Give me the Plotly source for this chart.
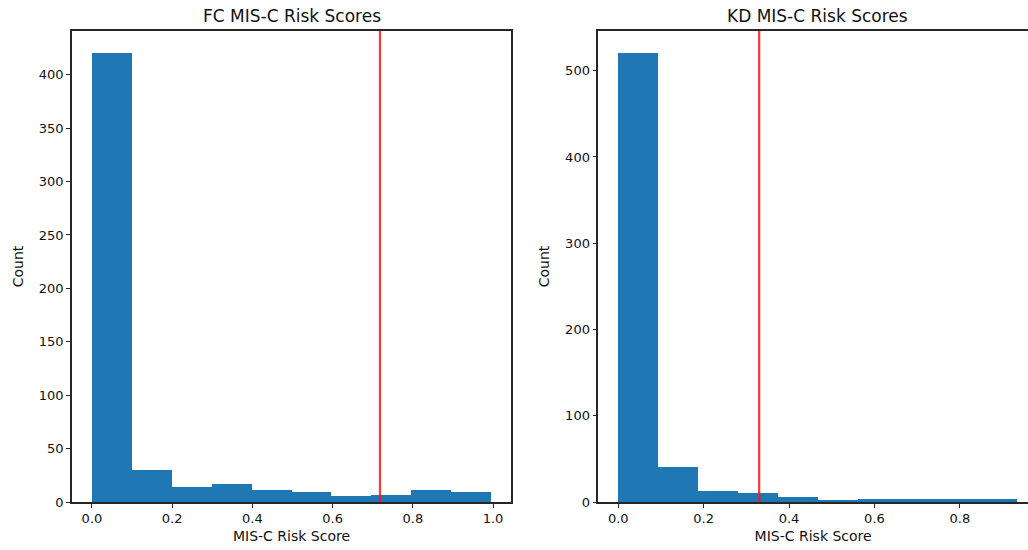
import plotly.graph_objects as go

# Data
fc_bin_start = 0.0
fc_bin_width = 0.0995
fc_counts = [420, 30, 14, 17, 11, 9, 6, 7, 11, 9]
fc_threshold = 0.718

kd_bin_start = 0.0
kd_bin_width = 0.0935
kd_counts = [520, 40, 13, 11, 6, 1.5, 3, 3, 4, 4]
kd_threshold = 0.330

titles = ["FC MIS-C Risk Scores", "KD MIS-C Risk Scores"]
x_label = "MIS-C Risk Score"
y_label = "Count"

BLUE = "#1f77b4"
W, H = 1028, 550

fig = go.Figure()

def centers(start, width, n):
    return [start + width * (i + 0.5) for i in range(n)]

fig.add_trace(go.Bar(x=centers(fc_bin_start, fc_bin_width, len(fc_counts)), y=fc_counts,
                     width=fc_bin_width, marker=dict(color=BLUE, line=dict(width=0)),
                     xaxis="x", yaxis="y", showlegend=False))
fig.add_trace(go.Bar(x=centers(kd_bin_start, kd_bin_width, len(kd_counts)), y=kd_counts,
                     width=kd_bin_width, marker=dict(color=BLUE, line=dict(width=0)),
                     xaxis="x2", yaxis="y2", showlegend=False))

fc_ymax = max(fc_counts) * 1.05
kd_ymax = max(kd_counts) * 1.05
fc_xmax = fc_bin_start + fc_bin_width * len(fc_counts)
kd_xmax = kd_bin_start + kd_bin_width * len(kd_counts)

# threshold lines
fig.add_trace(go.Scatter(x=[fc_threshold, fc_threshold], y=[0, fc_ymax], mode="lines",
                         line=dict(color="rgba(255,20,20,0.85)", width=2.2),
                         xaxis="x", yaxis="y", showlegend=False, hoverinfo="skip"))
fig.add_trace(go.Scatter(x=[kd_threshold, kd_threshold], y=[0, kd_ymax], mode="lines",
                         line=dict(color="rgba(255,20,20,0.85)", width=2.2),
                         xaxis="x2", yaxis="y2", showlegend=False, hoverinfo="skip"))

tickfont = dict(family="DejaVu Sans", size=13, color="#111")
labfont = dict(family="DejaVu Sans", size=14, color="#111")
axcommon = dict(showgrid=False, zeroline=False, showline=True, linecolor="#262626", linewidth=1.5,
                ticks="outside", ticklen=4, tickwidth=1.2, tickcolor="#262626",
                tickfont=tickfont)

x1_lo = -0.05 * fc_xmax
x1_hi = fc_xmax * 1.05
x2_lo = -0.05 * kd_xmax
# right axis is cut by the image edge: 0 at px 618.3, 427 px/unit, edge at 1028
x2_hi = x2_lo + (W - 598.3) / 427.0

fig.update_layout(
    width=W, height=H,
    margin=dict(l=0, r=0, t=31, b=48),
    paper_bgcolor="white", plot_bgcolor="white",
    bargap=0,
    xaxis=dict(domain=[72 / W, 511 / W], range=[x1_lo, x1_hi], mirror=True,
               tickvals=[0, 0.2, 0.4, 0.6, 0.8, 1.0], ticktext=["0.0", "0.2", "0.4", "0.6", "0.8", "1.0"],
               title=dict(text=x_label, font=labfont, standoff=6), anchor="y", **axcommon),
    yaxis=dict(domain=[0, 1], range=[0, fc_ymax], mirror=True, tickvals=list(range(0, 401, 50)),
               title=dict(text=y_label, font=labfont, standoff=12), anchor="x", **axcommon),
    xaxis2=dict(domain=[598.3 / W, 1.0], range=[x2_lo, x2_hi], mirror=True,
                tickvals=[0, 0.2, 0.4, 0.6, 0.8], ticktext=["0.0", "0.2", "0.4", "0.6", "0.8"],
                title=dict(text=x_label, font=labfont, standoff=6), anchor="y2", **axcommon),
    yaxis2=dict(domain=[0, 1], range=[0, kd_ymax], mirror=False, tickvals=list(range(0, 501, 100)),
                title=dict(text=y_label, font=labfont, standoff=12), anchor="x2", **axcommon),
    annotations=[
        dict(text=titles[0], x=(72 + 511) / 2 / W, y=1, xref="paper", yref="paper",
             xanchor="center", yanchor="bottom", yshift=3, showarrow=False,
             font=dict(family="DejaVu Sans", size=17, color="#111")),
        dict(text=titles[1], x=(598.3 + 1037.6) / 2 / W, y=1, xref="paper", yref="paper",
             xanchor="center", yanchor="bottom", yshift=3, showarrow=False,
             font=dict(family="DejaVu Sans", size=17, color="#111")),
    ],
)

fig.write_html("out.html")
